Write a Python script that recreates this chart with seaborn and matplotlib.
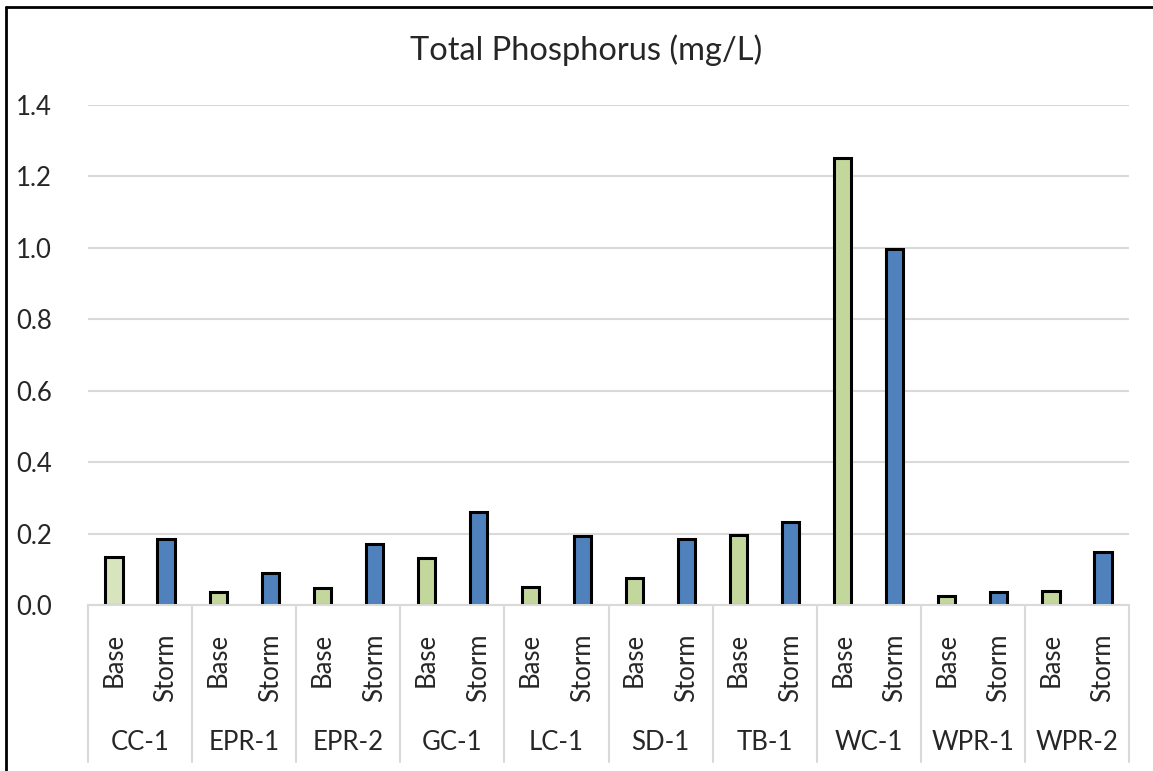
import pandas as pd
import numpy as np
import matplotlib
matplotlib.use("Agg")
import matplotlib.pyplot as plt
import seaborn as sns

# data
sites = ['CC-1', 'EPR-1', 'EPR-2', 'GC-1', 'LC-1', 'SD-1', 'TB-1', 'WC-1', 'WPR-1', 'WPR-2']
kinds = ['Base', 'Storm']
base_vals = [0.134, 0.036, 0.047, 0.131, 0.050, 0.077, 0.195, 1.251, 0.025, 0.040]
storm_vals = [0.184, 0.090, 0.170, 0.260, 0.192, 0.186, 0.232, 0.997, 0.037, 0.148]
yticks = [0.0, 0.2, 0.4, 0.6, 0.8, 1.0, 1.2, 1.4]

rows = []
for s, b, st in zip(sites, base_vals, storm_vals):
    rows.append({'slot': s + ' Base', 'site': s, 'kind': 'Base', 'tp': b})
    rows.append({'slot': s + ' Storm', 'site': s, 'kind': 'Storm', 'tp': st})
df = pd.DataFrame(rows)

sns.set_style("white")
plt.rcParams['font.family'] = ['Lato', 'DejaVu Sans']

W, H = 1153, 771
fig = plt.figure(figsize=(W / 100, H / 100), dpi=100)
ax = fig.add_axes([88 / W, 1 - 605 / H, (1129 - 88) / W, (605 - 105) / H])

sns.barplot(data=df, x='slot', y='tp', hue='kind', palette={'Base': '#C3D69B', 'Storm': '#4F81BD'},
            dodge=False, width=0.33, saturation=1, edgecolor='black', linewidth=2.2,
            legend=False, ax=ax)

# first base bar is a lighter green in the original
for p in ax.patches:
    if abs(p.get_x() + p.get_width() / 2) < 0.01 and p.get_height() > 0:
        p.set_facecolor('#D7E4BD')

ax.set_ylim(0, 1.4)
ax.set_xlim(-0.5, len(df) - 0.5)
ax.set_yticks(yticks)
ax.set_yticklabels([f'{v:.1f}' for v in yticks], fontsize=18.5)
ax.tick_params(axis='y', length=0, pad=26)
ax.set_xticks([])
ax.set_xlabel('')
ax.set_ylabel('')
ax.yaxis.grid(True, color='#D9D9D9', linewidth=1.5)
ax.set_axisbelow(True)
for side in ['left', 'right', 'top']:
    ax.spines[side].set_visible(False)
ax.spines['bottom'].set_color('#D9D9D9')
ax.spines['bottom'].set_linewidth(1.5)

# two-level category axis
trans = ax.get_xaxis_transform()
def fy(px):
    return 1 - px / H
y_kind = (605 - 633) / (605 - 105)
y_site = (605 - 743) / (605 - 105)
y_low = (605 - 762) / (605 - 105)
for i, r in df.iterrows():
    ax.text(i, y_kind, r['kind'], transform=trans, rotation=90, ha='center', va='top',
            fontsize=18.5, clip_on=False)
for j, s in enumerate(sites):
    ax.text(2 * j + 0.5, y_site, s, transform=trans, ha='center', va='center',
            fontsize=18.5, clip_on=False)
for j in range(len(sites) + 1):
    ax.plot([2 * j - 0.5, 2 * j - 0.5], [0, y_low], transform=trans, color='#D9D9D9',
            linewidth=1.5, clip_on=False)

fig.text(586 / W, fy(50), 'Total Phosphorus (mg/L)', ha='center', va='center', fontsize=23.5)

# chart frame (only left and top edges fall inside the image)
fig.add_artist(plt.Line2D([6 / W, 6 / W], [0, fy(7)], color='black', linewidth=2))
fig.add_artist(plt.Line2D([6 / W, 1], [fy(7), fy(7)], color='black', linewidth=2))

fig.savefig('out.png', dpi=100)
